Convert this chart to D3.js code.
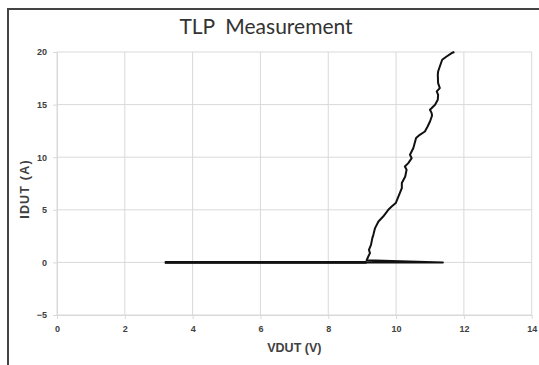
<!DOCTYPE html>
<html>
<head>
<meta charset="utf-8">
<script src="https://cdn.jsdelivr.net/npm/d3@7"></script>
<style>
  body { margin: 0; background: #fff; }
  svg { display: block; }
</style>
</head>
<body>
<div id="chart"></div>
<script>
// TLP curve: leakage sweep at I~0, trigger at ~11.4 V, snapback to ~9.1 V, then rise
const vdut = [3.18, 9.13, 11.38, 9.13, 9.18, 9.23, 9.20, 9.26, 9.30, 9.33, 9.38, 9.48, 9.62, 9.77,
  9.87, 9.99, 10.05, 10.11, 10.17, 10.17, 10.27, 10.31, 10.26, 10.36, 10.46, 10.41, 10.51, 10.59,
  10.70, 10.85, 10.93, 11.00, 11.06, 11.05, 11.00, 11.15, 11.23, 11.24, 11.20, 11.29, 11.24, 11.23,
  11.24, 11.29, 11.36, 11.49, 11.64, 11.72];
const idut = [0, 0, 0, 0.2, 0.56, 0.88, 1.20, 1.67, 2.31, 2.62, 3.26, 3.89, 4.36, 5.00,
  5.31, 5.64, 6.11, 6.59, 7.06, 7.54, 8.17, 8.80, 9.12, 9.44, 9.91, 10.23, 10.87, 11.82,
  12.13, 12.44, 12.92, 13.39, 13.94, 14.19, 14.51, 14.98, 15.46, 15.93, 16.25, 16.57, 17.04, 17.83,
  18.15, 18.62, 19.26, 19.57, 19.90, 20.0];

const xTicks = [0, 2, 4, 6, 8, 10, 12, 14];
const yTicks = [-5, 0, 5, 10, 15, 20];

const titleText = 'TLP  Measurement';
const xTitle = 'VDUT (V)';
const yTitle = 'IDUT (A)';

const width = 539;
const height = 365;
const plot = { left: 57, right: 531.7, top: 52, bottom: 315 };

const svg = d3.select('#chart')
  .append('svg')
  .attr('width', width)
  .attr('height', height);

// chart frame
svg.append('rect')
  .attr('x', 8)
  .attr('y', 9)
  .attr('width', 700)
  .attr('height', 500)
  .attr('fill', '#fff')
  .attr('stroke', '#444')
  .attr('stroke-width', 2);

const x = d3.scaleLinear([0, 14], [plot.left, plot.right]);
const y = d3.scaleLinear([-5, 20], [plot.bottom, plot.top]);

const grid = '#d9d9d9';

// gridlines
svg.append('g')
  .selectAll('line')
  .data(yTicks)
  .enter()
  .append('line')
  .attr('x1', plot.left)
  .attr('x2', plot.right)
  .attr('y1', d => y(d))
  .attr('y2', d => y(d))
  .attr('stroke', grid);

svg.append('g')
  .selectAll('line')
  .data(xTicks)
  .enter()
  .append('line')
  .attr('x1', d => x(d))
  .attr('x2', d => x(d))
  .attr('y1', plot.top)
  .attr('y2', plot.bottom)
  .attr('stroke', grid);

// axes
const xAxis = svg.append('g')
  .attr('transform', `translate(0,${plot.bottom})`)
  .call(d3.axisBottom(x).tickValues(xTicks).tickSize(4).tickSizeOuter(0).tickPadding(7));

const yAxis = svg.append('g')
  .attr('transform', `translate(${plot.left},0)`)
  .call(d3.axisLeft(y).tickValues(yTicks).tickSize(4).tickSizeOuter(0).tickPadding(6));

[xAxis, yAxis].forEach(a => {
  a.selectAll('path, line').attr('stroke', grid);
  a.selectAll('text')
    .attr('font-family', 'Liberation Sans, Arial, sans-serif')
    .attr('font-size', 9)
    .attr('font-weight', 'bold')
    .attr('fill', '#404040');
});

// the measured curve
const line = d3.line()
  .x(i => x(vdut[i]))
  .y(i => y(idut[i]));

svg.append('path')
  .datum(d3.range(vdut.length))
  .attr('d', line)
  .attr('fill', 'none')
  .attr('stroke', '#111')
  .attr('stroke-width', 2)
  .attr('stroke-linejoin', 'round');

// leakage sweep is drawn heavier (overlapping points)
svg.append('path')
  .datum([0, 1])
  .attr('d', line)
  .attr('fill', 'none')
  .attr('stroke', '#111')
  .attr('stroke-width', 2.6);

// titles
svg.append('text')
  .attr('x', 266)
  .attr('y', 34)
  .attr('text-anchor', 'middle')
  .attr('font-family', 'Lato, sans-serif')
  .attr('font-size', 21)
  .attr('fill', '#333')
  .style('white-space', 'pre')
  .text(titleText);

svg.append('text')
  .attr('x', (plot.left + plot.right) / 2)
  .attr('y', 352)
  .attr('text-anchor', 'middle')
  .attr('font-family', 'Liberation Sans, Arial, sans-serif')
  .attr('font-size', 12.5)
  .attr('font-weight', 'bold')
  .attr('fill', '#404040')
  .text(xTitle);

svg.append('text')
  .attr('transform', 'translate(29,189) rotate(-90)')
  .attr('text-anchor', 'middle')
  .attr('font-family', 'Liberation Sans, Arial, sans-serif')
  .attr('font-size', 12.5)
  .attr('font-weight', 'bold')
  .attr('letter-spacing', 1.2)
  .attr('fill', '#404040')
  .text(yTitle);
</script>
</body>
</html>
